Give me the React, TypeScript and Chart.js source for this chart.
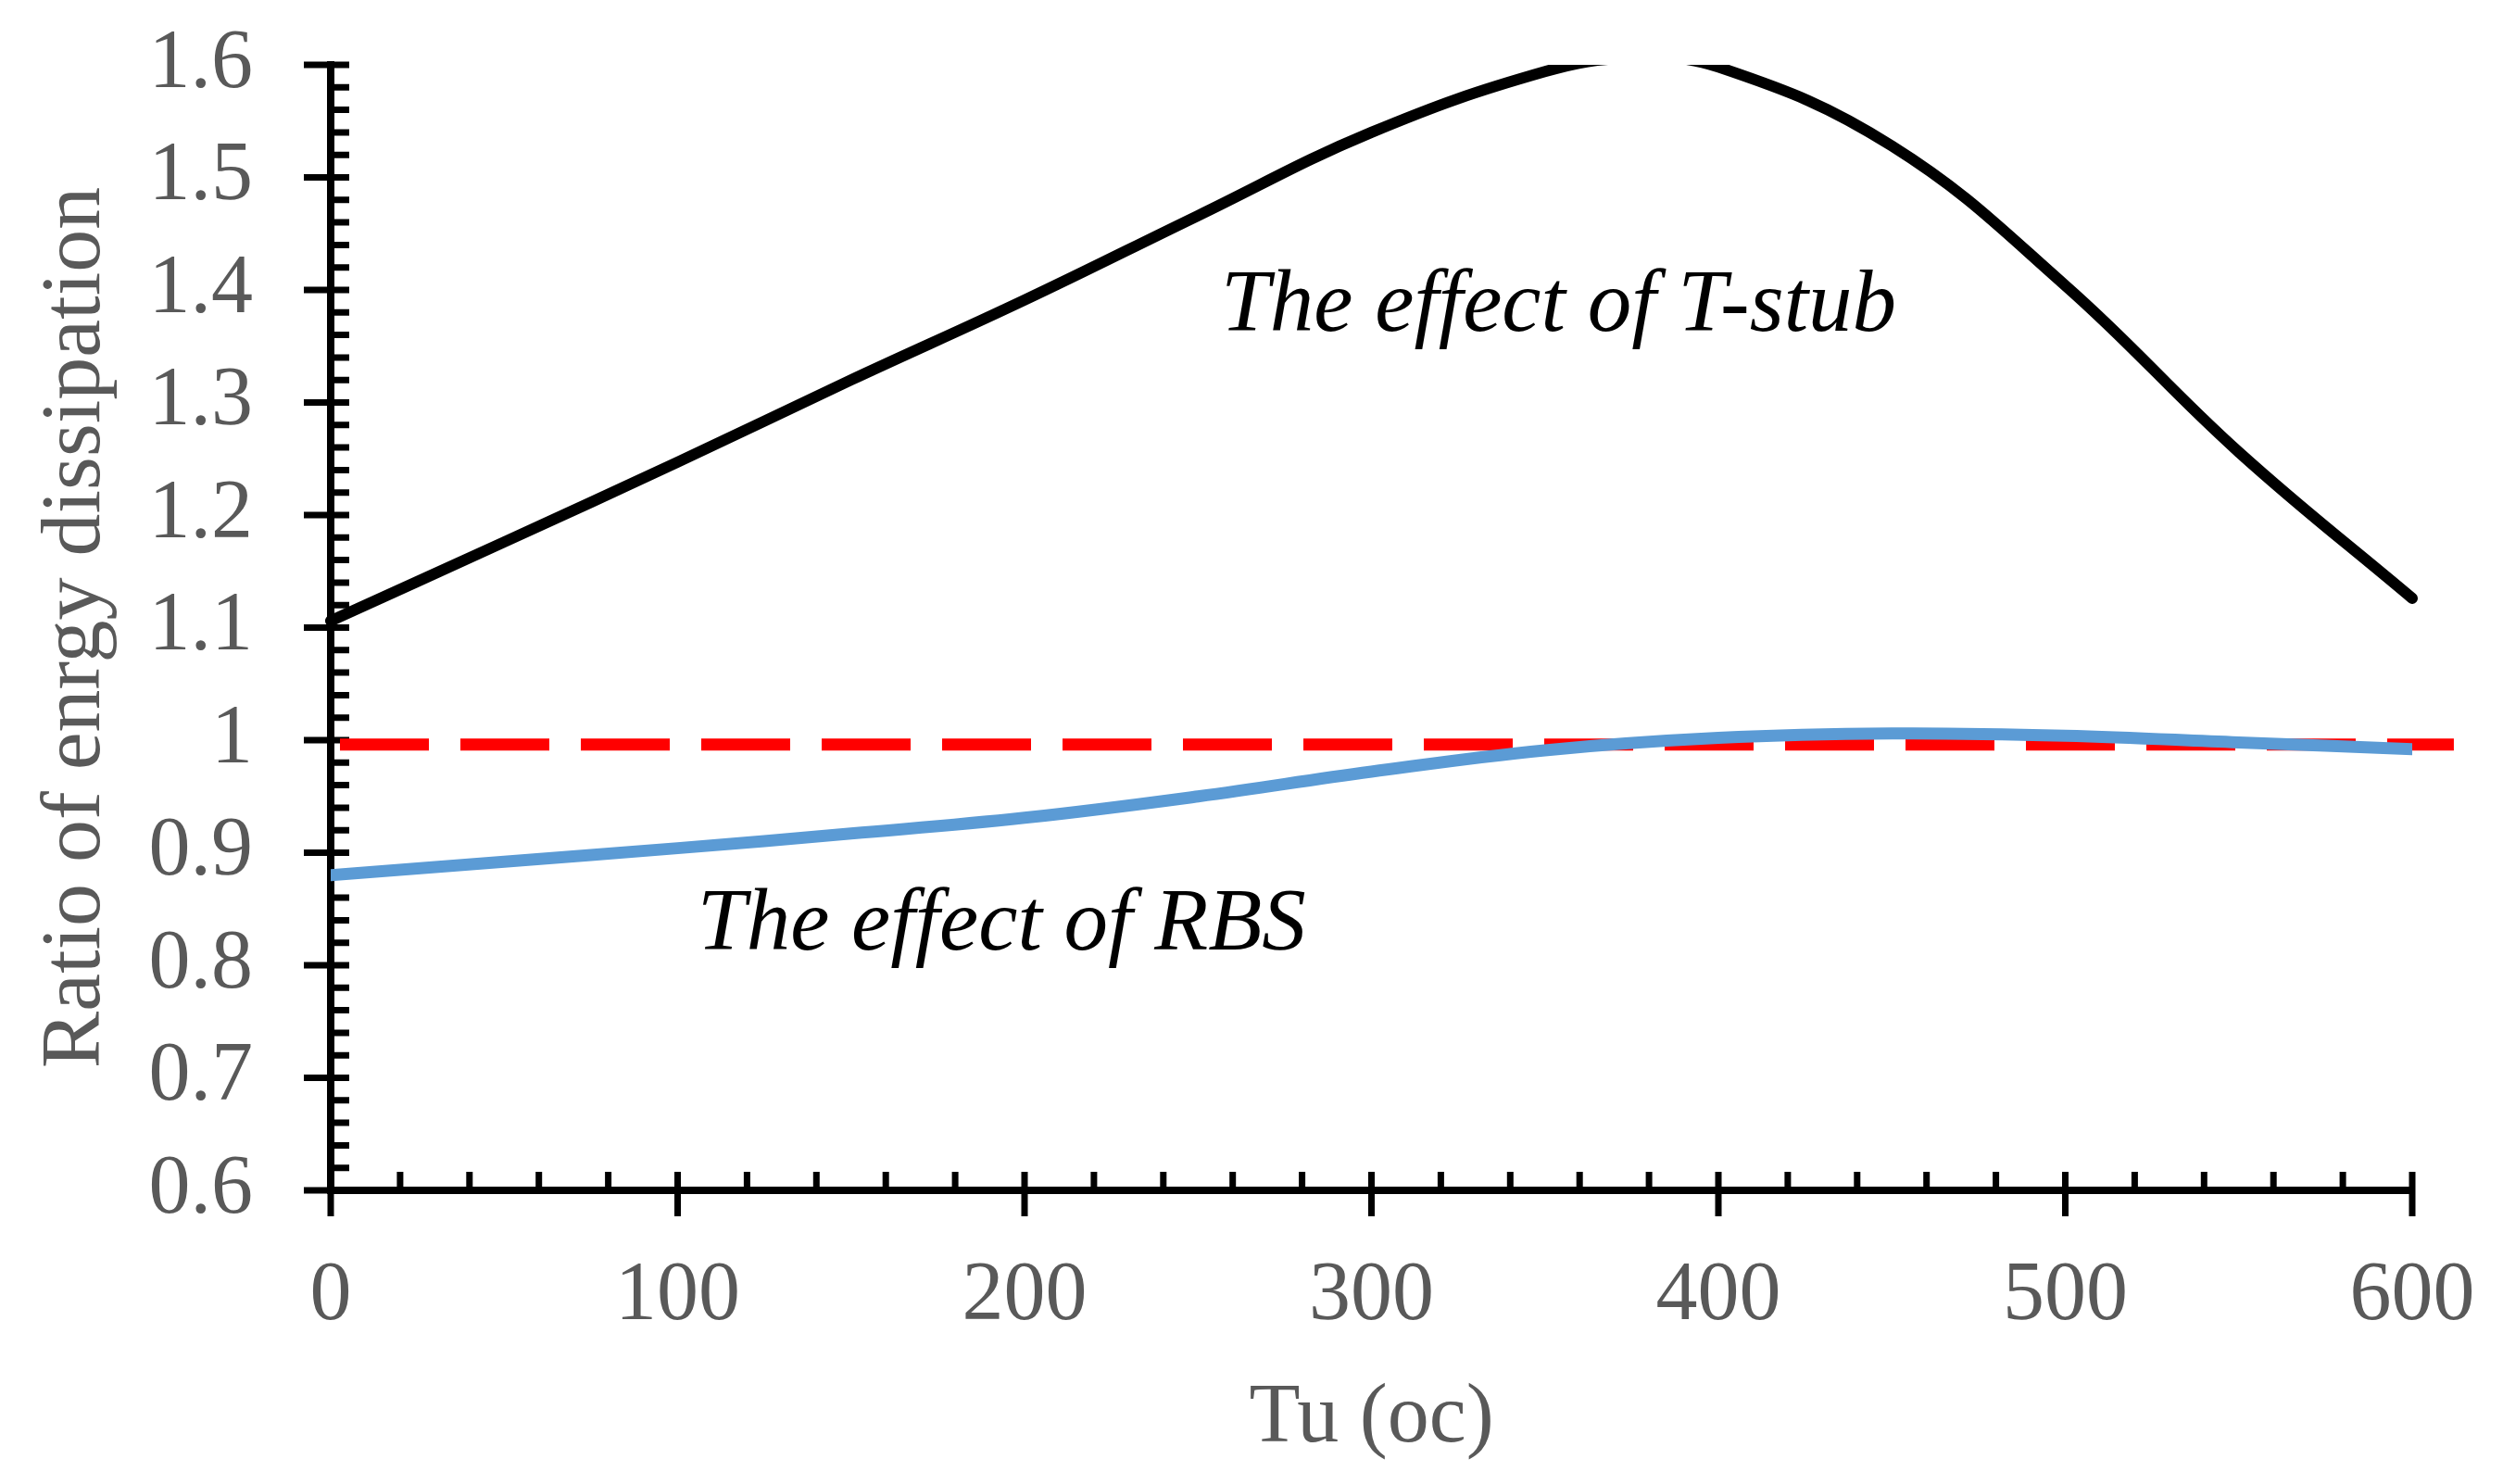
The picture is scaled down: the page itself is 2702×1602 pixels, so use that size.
import React, { useEffect, useRef } from "react";
import { Chart, registerables } from "chart.js";

Chart.register(...registerables);

// Tu (oc) sample positions
const tuValues = [0, 50, 100, 150, 200, 250, 300, 350, 375, 400, 450, 500, 550, 600];
const tStubRatio = [1.106, 1.176, 1.247, 1.32, 1.391, 1.466, 1.54, 1.594, 1.606, 1.598, 1.528, 1.404, 1.256, 1.126];

const rbsTu = [0, 50, 100, 150, 200, 250, 300, 350, 400, 450, 500, 550, 600];
const rbsRatio = [0.88, 0.892, 0.904, 0.917, 0.931, 0.95, 0.972, 0.991, 1.002, 1.006, 1.004, 0.998, 0.992];

// reference line (ratio = 1)
const refTu = [0, 612];
const refRatio = [0.996, 0.996];

const notes = [
  { text: "The effect of T-stub", tu: 256.6, ratio: 1.364 },
  { text: "The effect of RBS", tu: 105.7, ratio: 0.814 },
];

const FONT = '"Liberation Serif", "Times New Roman", serif';
const GREY = "#595959";

const toPoints = (xs: number[], ys: number[]) => xs.map((x, i) => ({ x, y: ys[i] }));

// excel style tick marks: majors cross the axis, minors sit inside
const axisTicks = {
  id: "axisTicks",
  beforeDatasetsDraw(chart: any) {
    const { ctx, chartArea, scales } = chart;
    const { left, bottom } = chartArea;
    ctx.save();
    ctx.strokeStyle = "#000";
    ctx.lineWidth = 7;
    ctx.lineCap = "butt";
    ctx.beginPath();
    for (let i = 0; i <= 50; i++) {
      const py = scales.y.getPixelForValue(0.6 + i * 0.02);
      const major = i % 5 === 0;
      ctx.moveTo(major ? left - 29 : left, py);
      ctx.lineTo(left + 20, py);
    }
    for (let i = 0; i <= 30; i++) {
      const px = scales.x.getPixelForValue(i * 20);
      const major = i % 5 === 0;
      ctx.moveTo(px, bottom - 20);
      ctx.lineTo(px, major ? bottom + 28 : bottom);
    }
    ctx.stroke();
    ctx.restore();
  },
};

const noteLabels = {
  id: "noteLabels",
  afterDatasetsDraw(chart: any) {
    const { ctx, scales } = chart;
    ctx.save();
    ctx.fillStyle = "#000";
    ctx.font = `italic 95px ${FONT}`;
    ctx.textAlign = "left";
    ctx.textBaseline = "alphabetic";
    notes.forEach((n) => {
      ctx.fillText(n.text, scales.x.getPixelForValue(n.tu), scales.y.getPixelForValue(n.ratio));
    });
    ctx.restore();
  },
};

const App: React.FC = () => {
  const canvasRef = useRef<HTMLCanvasElement>(null);

  useEffect(() => {
    let chart: Chart | null = null;
    if (canvasRef.current) {
      chart = new Chart(canvasRef.current, {
        type: "line",
        data: {
          datasets: [
            {
              label: "T-stub",
              data: toPoints(tuValues, tStubRatio),
              borderColor: "#000000",
              borderWidth: 12,
              borderCapStyle: "round",
              tension: 0.4,
              pointRadius: 0,
              clip: { top: 0, left: 10, right: 10, bottom: 10 },
            },
            {
              label: "RBS",
              data: toPoints(rbsTu, rbsRatio),
              borderColor: "#5B9BD5",
              borderWidth: 13,
              borderCapStyle: "round",
              tension: 0.4,
              pointRadius: 0,
            },
            {
              label: "Reference",
              data: toPoints(refTu, refRatio),
              borderColor: "#FF0000",
              borderWidth: 13,
              borderDash: [96, 34],
              borderDashOffset: -10,
              pointRadius: 0,
              clip: false,
            },
          ],
        },
        options: {
          animation: false,
          responsive: true,
          maintainAspectRatio: false,
          devicePixelRatio: 1,
          layout: { padding: { top: 70, right: 98, left: 0, bottom: 0 } },
          plugins: {
            legend: { display: false },
            tooltip: { enabled: false },
          },
          scales: {
            x: {
              type: "linear",
              min: 0,
              max: 600,
              afterFit: (s: any) => {
                s.height = 317;
                s.paddingLeft = 0;
                s.paddingRight = 0;
              },
              grid: { display: false, drawTicks: false },
              border: { display: true, color: "#000", width: 8 },
              ticks: {
                stepSize: 100,
                padding: 61,
                color: GREY,
                font: { family: FONT, size: 90 },
                maxRotation: 0,
              },
              title: {
                display: true,
                text: "Tu (oc)",
                color: GREY,
                font: { family: FONT, size: 90 },
                padding: { top: 0, bottom: 16 },
              },
            },
            y: {
              min: 0.6,
              max: 1.6,
              afterFit: (s: any) => {
                s.width = 357;
                s.paddingTop = 0;
                s.paddingBottom = 0;
              },
              grid: { display: false, drawTicks: false },
              border: { display: true, color: "#000", width: 8 },
              ticks: {
                stepSize: 0.1,
                padding: 84,
                color: GREY,
                font: { family: FONT, size: 90 },
                callback: (v: any) => String(Number(Number(v).toFixed(1))),
              },
              title: {
                display: true,
                text: "Ratio of enrgy dissipation",
                color: GREY,
                font: { family: FONT, size: 92 },
                padding: { top: 28, bottom: 0 },
              },
            },
          },
        },
        plugins: [axisTicks, noteLabels],
      });
    }
    return () => {
      if (chart) chart.destroy();
    };
  }, []);

  return (
    <div style={{ position: "fixed", left: 0, top: 0, width: 2702, height: 1602, background: "#fff" }}>
      <canvas ref={canvasRef} />
    </div>
  );
};

export default App;
